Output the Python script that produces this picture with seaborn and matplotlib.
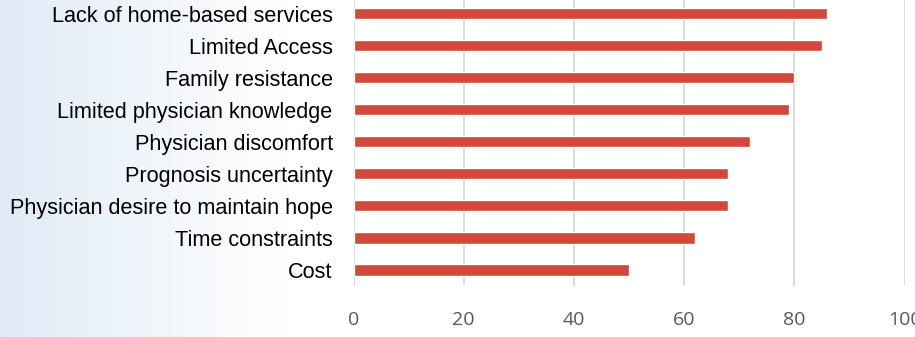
import numpy as np
import pandas as pd
import matplotlib
matplotlib.use("Agg")
import matplotlib.pyplot as plt
import seaborn as sns

categories = [
    "Lack of home-based services",
    "Limited Access",
    "Family resistance",
    "Limited physician knowledge",
    "Physician discomfort",
    "Prognosis uncertainty",
    "Physician desire to maintain hope",
    "Time constraints",
    "Cost",
]
values = [86, 85, 80, 79, 72, 68, 68, 62, 50]
xticks = [0, 20, 40, 60, 80, 100]

df = pd.DataFrame({"category": categories, "value": values})

sns.set_theme(style="white")
W, H = 915, 337
fig = plt.figure(figsize=(W / 100, H / 100), dpi=100)

# background gradient (light blue on left fading to white)
bg = fig.add_axes([0, 0, 1, 1], zorder=-10)
x = np.linspace(0, 1, 915)
t = np.clip(x / (290 / 915), 0, 1) ** 0.9
c0 = np.array([0.875, 0.918, 0.965])
c1 = np.array([1.0, 1.0, 1.0])
row = (1 - t)[:, None] * c0 + t[:, None] * c1
img = np.repeat(row[None, :, :], 10, axis=0)
bg.imshow(img, aspect="auto", extent=[0, 1, 0, 1])
bg.set_axis_off()

left = 353.5 / W
right = 904.5 / W
top_px = -2.5
bot_px = 286
ax = fig.add_axes([left, (H - bot_px) / H, right - left, (bot_px - top_px) / H])
ax.patch.set_alpha(0)

sns.barplot(data=df, x="value", y="category", order=categories, orient="h",
            color="#cf4a3c", saturation=1, width=0.35, ax=ax, zorder=3)

ax.set_xlim(0, 100)
ax.set_xticks(xticks)
ax.set_xlabel("")
ax.set_ylabel("")
ax.grid(axis="x", color="#d9d9d9", linewidth=1.3, zorder=0)
ax.grid(axis="y", visible=False)
for s in ax.spines.values():
    s.set_visible(False)
ax.tick_params(axis="both", length=0)
ax.tick_params(axis="y", pad=15)
ax.tick_params(axis="x", pad=18)
for lab in ax.get_yticklabels():
    lab.set_fontfamily("Liberation Sans")
    lab.set_fontsize(15.6)
    lab.set_color("black")
for lab in ax.get_xticklabels():
    lab.set_fontfamily("Open Sans")
    lab.set_fontsize(14)
    lab.set_color("#595959")

fig.savefig("out.png", dpi=100)
